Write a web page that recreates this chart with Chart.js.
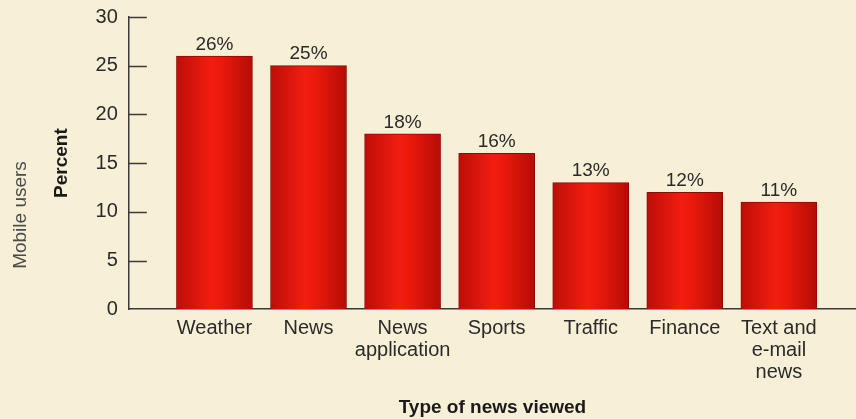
<!DOCTYPE html>
<html>
<head>
<meta charset="utf-8">
<script src="https://cdn.jsdelivr.net/npm/chart.js@4.4.1/dist/chart.umd.min.js"></script>
<style>
  html, body { margin: 0; padding: 0; background: #f7f0d6; }
  #wrap { width: 856px; height: 419px; position: relative; }
</style>
</head>
<body>
<div id="wrap"><canvas id="newsChart"></canvas></div>
<script>
const categories = ['Weather', 'News', 'News application', 'Sports', 'Traffic', 'Finance', 'Text and e-mail news'];
const tickLines = [['Weather'], ['News'], ['News', 'application'], ['Sports'], ['Traffic'], ['Finance'], ['Text and', 'e-mail', 'news']];
const percentValues = [26, 25, 18, 16, 13, 12, 11];
const yTicks = [0, 5, 10, 15, 20, 25, 30];

const FONT = '"Liberation Sans", Arial, sans-serif';
const BAR_W = 76;

// red bars, lighter in the middle
function barFill(ctx) {
    const chart = ctx.chart;
    const xs = chart.scales.x;
    if (!xs || ctx.dataIndex === undefined) return '#d8120a';
    const cx = xs.getPixelForValue(ctx.dataIndex);
    if (!isFinite(cx)) return '#d8120a';
    const g = chart.ctx.createLinearGradient(cx - BAR_W / 2, 0, cx + BAR_W / 2, 0);
    g.addColorStop(0, '#bc0e08');
    g.addColorStop(0.45, '#f21d10');
    g.addColorStop(0.6, '#ea190c');
    g.addColorStop(1, '#b40c06');
    return g;
}

const innerTicks = {
    id: 'innerTicks',
    afterDatasetsDraw(chart) {
        const y = chart.scales.y;
        const c = chart.ctx;
        c.save();
        c.strokeStyle = '#3a3a3a';
        c.lineWidth = 1.5;
        y.ticks.forEach(t => {
            if (t.value === 0) return;
            const py = Math.round(y.getPixelForValue(t.value)) + 0.5;
            c.beginPath();
            c.moveTo(chart.chartArea.left, py);
            c.lineTo(chart.chartArea.left + 18, py);
            c.stroke();
        });
        c.restore();
    }
};

const valueLabels = {
    id: 'valueLabels',
    afterDatasetsDraw(chart) {
        const c = chart.ctx;
        const meta = chart.getDatasetMeta(0);
        c.save();
        c.font = '19px ' + FONT;
        c.fillStyle = '#2a2a2a';
        c.textAlign = 'center';
        c.textBaseline = 'bottom';
        meta.data.forEach((bar, i) => {
            c.fillText(percentValues[i] + '%', bar.x, bar.y - 2);
        });
        c.restore();
    }
};

const chart = new Chart(document.getElementById('newsChart'), {
    type: 'bar',
    data: {
        datasets: [{
            data: percentValues.map((v, i) => ({ x: i, y: v })),
            backgroundColor: barFill,
            borderColor: '#8e0a05',
            borderWidth: 1,
            barThickness: BAR_W
        }]
    },
    options: {
        responsive: true,
        maintainAspectRatio: false,
        animation: false,
        layout: { padding: { top: 11, right: 0, bottom: 0, left: 9 } },
        plugins: {
            legend: { display: false },
            tooltip: { enabled: false },
            title: {
                display: true,
                position: 'left',
                text: 'Mobile users',
                color: '#4a4a4a',
                font: { family: FONT, size: 19, weight: 'normal' },
                padding: { top: 0, bottom: 19 }
            }
        },
        scales: {
            x: {
                type: 'linear',
                offset: false,
                min: -0.91,
                max: 6.82,
                afterBuildTicks: s => { s.ticks = categories.map((c, i) => ({ value: i })); },
                grid: { display: false },
                border: { display: true, color: '#3a3a3a', width: 1.5 },
                ticks: {
                    autoSkip: false,
                    maxRotation: 0,
                    padding: 0,
                    color: '#2a2a2a',
                    font: { family: FONT, size: 20, lineHeight: 1.1 },
                    callback: v => tickLines[v] || ''
                },
                title: {
                    display: true,
                    text: 'Type of news viewed',
                    color: '#1a1a1a',
                    font: { family: FONT, size: 19, weight: 'bold' },
                    padding: { top: 13, bottom: 0 }
                }
            },
            y: {
                min: 0,
                max: 30,
                afterBuildTicks: s => { s.ticks = yTicks.map(v => ({ value: v })); },
                grid: { display: false, drawTicks: false },
                border: { display: true, color: '#3a3a3a', width: 1.5 },
                ticks: {
                    padding: 11,
                    color: '#2a2a2a',
                    font: { family: FONT, size: 20, lineHeight: 0.6 }
                },
                title: {
                    display: true,
                    text: 'Percent',
                    color: '#1a1a1a',
                    font: { family: FONT, size: 19, weight: 'bold' },
                    padding: { top: 0, bottom: 11 }
                }
            }
        }
    },
    plugins: [innerTicks, valueLabels]
});
chart.update();
</script>
</body>
</html>
